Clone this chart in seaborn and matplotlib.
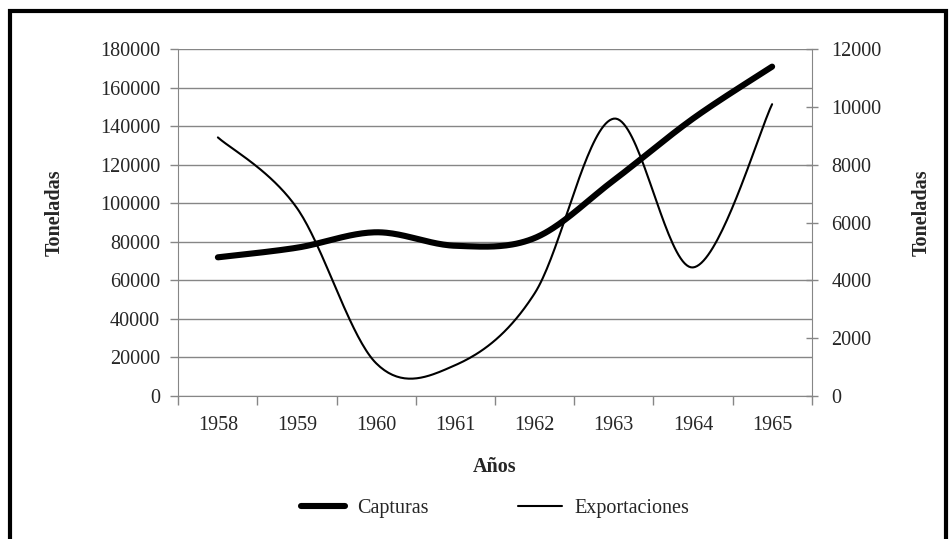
import numpy as np
import pandas as pd
import matplotlib
matplotlib.use("Agg")
import matplotlib.pyplot as plt
from matplotlib.patches import Rectangle
import seaborn as sns

years = ["1958", "1959", "1960", "1961", "1962", "1963", "1964", "1965"]
capturas = [72000, 77000, 85000, 78000, 82000, 112000, 144000, 171000]
exportaciones = [8950, 6500, 1130, 1070, 3550, 9600, 4450, 10100]
left_ticks = list(range(0, 180001, 20000))
right_ticks = list(range(0, 12001, 2000))

sns.set_style("white")
plt.rcParams["font.family"] = ["Liberation Serif", "DejaVu Serif"]

GREY = "#868686"
FS = 14.5


def smooth(values, n=40):
    """Excel-like smoothed line (Catmull-Rom as cubic Bezier)."""
    x = np.arange(len(values), dtype=float)
    y = np.asarray(values, dtype=float)
    P = np.column_stack([x, y])
    Pe = np.vstack([P[0], P, P[-1]])
    out = []
    t = np.linspace(0, 1, n)[:, None]
    for i in range(len(P) - 1):
        p0 = Pe[i + 1]
        p3 = Pe[i + 2]
        c1 = p0 + (Pe[i + 2] - Pe[i]) / 6.0
        c2 = p3 - (Pe[i + 3] - Pe[i + 1]) / 6.0
        seg = ((1 - t) ** 3) * p0 + 3 * ((1 - t) ** 2) * t * c1 + 3 * (1 - t) * t ** 2 * c2 + t ** 3 * p3
        out.append(seg if i == 0 else seg[1:])
    out = np.vstack(out)
    return out[:, 0], out[:, 1]


fig = plt.figure(figsize=(9.5, 5.39), dpi=100)
ax = fig.add_axes([178.3 / 950, 1 - 396 / 539, (811.7 - 178.3) / 950, (396 - 49.3) / 539])
ax2 = ax.twinx()

cx, cy = smooth(capturas)
ex, ey = smooth(exportaciones)
df_c = pd.DataFrame({"x": cx, "y": cy})
df_e = pd.DataFrame({"x": ex, "y": ey})

sns.lineplot(data=df_c, x="x", y="y", ax=ax, color="black", linewidth=4.4,
             sort=False, estimator=None, legend=False)
sns.lineplot(data=df_e, x="x", y="y", ax=ax2, color="black", linewidth=1.5,
             sort=False, estimator=None, legend=False)
ax.lines[0].set_solid_capstyle("round")

ax.set_xlim(-0.5, len(years) - 0.5)
ax.set_ylim(0, 180000)
ax2.set_ylim(0, 12000)

# grid
ax.set_axisbelow(True)
ax.grid(axis="y", color=GREY, linewidth=1)
ax.grid(axis="x", visible=False)
ax2.grid(False)

# spines
for a in (ax, ax2):
    for s in a.spines.values():
        s.set_visible(False)
ax.spines["left"].set_visible(True)
ax.spines["bottom"].set_visible(True)
ax.spines["left"].set_color(GREY)
ax.spines["bottom"].set_color(GREY)
ax2.spines["right"].set_visible(True)
ax2.spines["right"].set_color(GREY)

# x ticks: boundaries as marks, labels at centres
ax.set_xticks(np.arange(-0.5, len(years), 1.0))
ax.set_xticklabels([""] * (len(years) + 1))
ax.set_xticks(np.arange(len(years)), minor=True)
ax.set_xticklabels(years, minor=True, fontsize=FS)
ax.tick_params(axis="x", which="major", direction="out", length=6.5, color=GREY, width=1, bottom=True)
ax.tick_params(axis="x", which="minor", length=0, pad=14.5)

ax.set_yticks(left_ticks)
ax.set_yticklabels([str(v) for v in left_ticks], fontsize=FS)
ax.tick_params(axis="y", direction="out", length=6, color=GREY, width=1, pad=7, left=True)

ax2.set_yticks(right_ticks)
ax2.set_yticklabels([str(v) for v in right_ticks], fontsize=FS)
ax2.tick_params(axis="y", direction="inout", length=8, color=GREY, width=1, pad=10, right=True)

ax.set_xlabel("")
ax.set_ylabel("")
ax2.set_xlabel("")
ax2.set_ylabel("")

fig.text(55 / 950, 1 - 213 / 539, "Toneladas", rotation=90, ha="center", va="center",
         fontsize=FS, fontweight="bold")
fig.text(922 / 950, 1 - 213 / 539, "Toneladas", rotation=90, ha="center", va="center",
         fontsize=FS, fontweight="bold")
fig.text(495 / 950, 1 - 467 / 539, "Años", ha="center", va="center",
         fontsize=FS, fontweight="bold")

handles = [ax.lines[0], ax2.lines[0]]
fig.legend(handles, ["Capturas", "Exportaciones"], loc="center",
           bbox_to_anchor=(495 / 950, 1 - 508 / 539), ncol=2, frameon=False,
           fontsize=FS, handlelength=2.2, columnspacing=4.4, handletextpad=0.6)

fig.patches.append(Rectangle((10 / 950, -0.05), (946 - 10) / 950, 1.05 - 11 / 539,
                             transform=fig.transFigure, fill=False, lw=3, ec="black"))

fig.savefig("out.png", dpi=100)
